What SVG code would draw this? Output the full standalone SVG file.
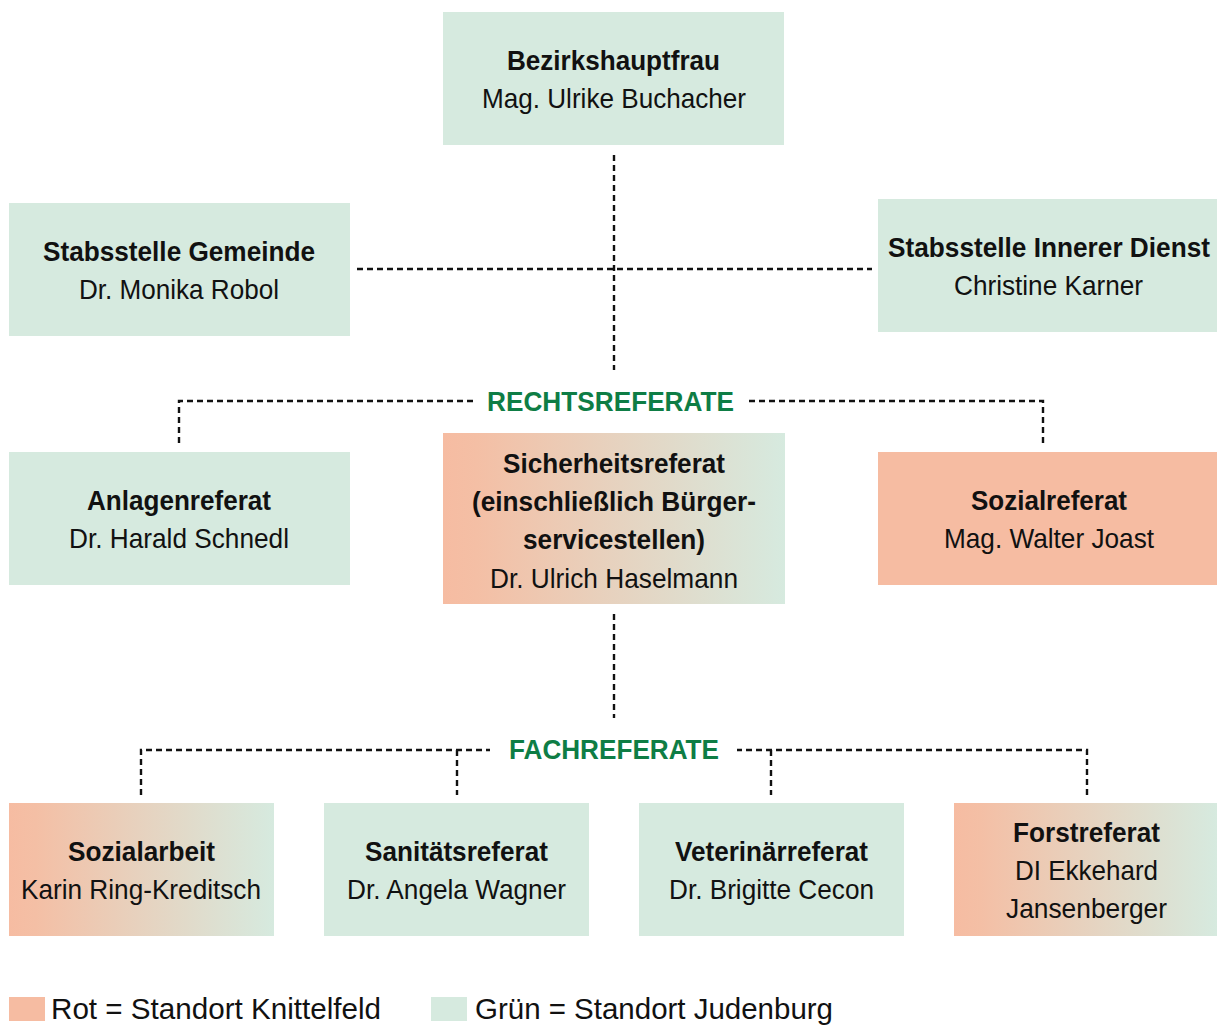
<svg xmlns="http://www.w3.org/2000/svg" width="1217" height="1026" viewBox="0 0 1217 1026">
<style>
.g{fill:#d6eadf}
.r{fill:#f6bca2}
.t{font-family:"Liberation Sans",Arial,sans-serif;font-size:27.5px;fill:#111;text-anchor:middle}
.b{font-weight:bold}
.h{font-family:"Liberation Sans",Arial,sans-serif;font-size:27px;font-weight:bold;fill:#0e7d45;text-anchor:middle}
.l{font-family:"Liberation Sans",Arial,sans-serif;font-size:29.5px;fill:#111}
.c{fill:none;stroke:#111;stroke-width:2.4;stroke-dasharray:6 4}
</style>
<defs>
<linearGradient id="grad" x1="0" y1="0" x2="1" y2="0">
<stop offset="0" stop-color="#f6bca2"/>
<stop offset="0.1" stop-color="#f4bfa5"/>
<stop offset="1" stop-color="#d6eadf"/>
</linearGradient>
</defs>
<rect width="1217" height="1026" fill="#fff"/>
<g id="connectors">
<path class="c" d="M614 155V370"/>
<path class="c" d="M357 269H872"/>
<path class="c" d="M179 443V401H475"/>
<path class="c" d="M1043 443V401H746"/>
<path class="c" d="M614 614V718"/>
<path class="c" d="M141 795V750H490"/>
<path class="c" d="M1087 795V750H737"/>
<path class="c" d="M457 750V795"/>
<path class="c" d="M771 750V795"/>
</g>
<g id="n-bezirk"><rect class="g" x="443" y="12" width="341" height="133"/><text class="t b" x="613.5" y="70" textLength="213" lengthAdjust="spacingAndGlyphs">Bezirkshauptfrau</text><text class="t" x="614" y="108" textLength="264" lengthAdjust="spacingAndGlyphs">Mag. Ulrike Buchacher</text></g>
<g id="n-gemeinde"><rect class="g" x="9" y="203" width="341" height="133"/><text class="t b" x="179" y="261" textLength="272" lengthAdjust="spacingAndGlyphs">Stabsstelle Gemeinde</text><text class="t" x="179" y="299" textLength="200" lengthAdjust="spacingAndGlyphs">Dr. Monika Robol</text></g>
<g id="n-innerer"><rect class="g" x="878" y="199" width="339" height="133"/><text class="t b" x="1049" y="257" textLength="322" lengthAdjust="spacingAndGlyphs">Stabsstelle Innerer Dienst</text><text class="t" x="1048.5" y="295" textLength="189" lengthAdjust="spacingAndGlyphs">Christine Karner</text></g>
<g id="l-rechts"><text class="h" x="610.5" y="411" textLength="247" lengthAdjust="spacingAndGlyphs">RECHTSREFERATE</text></g>
<g id="n-anlagen"><rect class="g" x="9" y="452" width="341" height="133"/><text class="t b" x="179" y="510" textLength="184" lengthAdjust="spacingAndGlyphs">Anlagenreferat</text><text class="t" x="179" y="548" textLength="220" lengthAdjust="spacingAndGlyphs">Dr. Harald Schnedl</text></g>
<g id="n-sicherheit"><rect fill="url(#grad)" x="443" y="433" width="342" height="171"/><text class="t b" x="614" y="473" textLength="222" lengthAdjust="spacingAndGlyphs">Sicherheitsreferat</text><text class="t b" x="614" y="511" textLength="284" lengthAdjust="spacingAndGlyphs">(einschließlich Bürger-</text><text class="t b" x="614" y="549" textLength="182" lengthAdjust="spacingAndGlyphs">servicestellen)</text><text class="t" x="614" y="588" textLength="248" lengthAdjust="spacingAndGlyphs">Dr. Ulrich Haselmann</text></g>
<g id="n-sozial"><rect class="r" x="878" y="452" width="339" height="133"/><text class="t b" x="1049" y="510" textLength="156" lengthAdjust="spacingAndGlyphs">Sozialreferat</text><text class="t" x="1049" y="548" textLength="210" lengthAdjust="spacingAndGlyphs">Mag. Walter Joast</text></g>
<g id="l-fach"><text class="h" x="614" y="759" textLength="210" lengthAdjust="spacingAndGlyphs">FACHREFERATE</text></g>
<g id="n-sozialarbeit"><rect fill="url(#grad)" x="9" y="803" width="265" height="133"/><text class="t b" x="141.5" y="861" textLength="147" lengthAdjust="spacingAndGlyphs">Sozialarbeit</text><text class="t" x="141" y="899" textLength="240" lengthAdjust="spacingAndGlyphs">Karin Ring-Kreditsch</text></g>
<g id="n-sanitaet"><rect class="g" x="324" y="803" width="265" height="133"/><text class="t b" x="456.5" y="861" textLength="183" lengthAdjust="spacingAndGlyphs">Sanitätsreferat</text><text class="t" x="456.5" y="899" textLength="219" lengthAdjust="spacingAndGlyphs">Dr. Angela Wagner</text></g>
<g id="n-veterinaer"><rect class="g" x="639" y="803" width="265" height="133"/><text class="t b" x="771.5" y="861" textLength="193" lengthAdjust="spacingAndGlyphs">Veterinärreferat</text><text class="t" x="771.5" y="899" textLength="205" lengthAdjust="spacingAndGlyphs">Dr. Brigitte Cecon</text></g>
<g id="n-forst"><rect fill="url(#grad)" x="954" y="803" width="263" height="133"/><text class="t b" x="1086.5" y="842" textLength="147" lengthAdjust="spacingAndGlyphs">Forstreferat</text><text class="t" x="1086.5" y="880" textLength="143" lengthAdjust="spacingAndGlyphs">DI Ekkehard</text><text class="t" x="1086.5" y="918" textLength="161" lengthAdjust="spacingAndGlyphs">Jansenberger</text></g>
<g id="legend"><rect class="r" x="9" y="997" width="36" height="24"/><text class="l" x="51" y="1019" textLength="330" lengthAdjust="spacingAndGlyphs">Rot = Standort Knittelfeld</text><rect class="g" x="431" y="997" width="36" height="24"/><text class="l" x="475" y="1019" textLength="358" lengthAdjust="spacingAndGlyphs">Grün = Standort Judenburg</text></g>
</svg>
